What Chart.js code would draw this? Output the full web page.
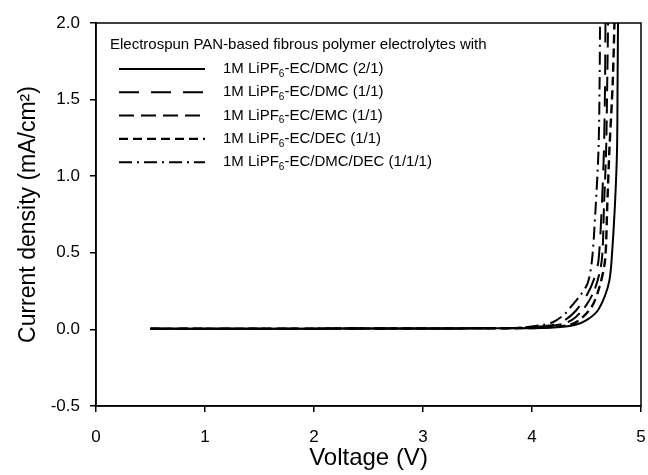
<!DOCTYPE html>
<html>
<head>
<meta charset="utf-8">
<script src="https://cdn.jsdelivr.net/npm/chart.js@4.4.0/dist/chart.umd.min.js"></script>
<style>
  html, body { margin: 0; padding: 0; background: #fff; }
  #wrap { width: 648px; height: 475px; }
</style>
</head>
<body>
<div id="wrap"><canvas id="lsv"></canvas></div>
<script>
// linear sweep voltammetry, voltage (V) vs current density (mA/cm2)
var xTicks = [0, 1, 2, 3, 4, 5];
var yTicks = [-0.5, 0.0, 0.5, 1.0, 1.5, 2.0];

var base_v = [0.5, 1.0, 1.5, 2.0, 2.5, 3.0, 3.5];
var base_i = [0.005, 0.005, 0.005, 0.005, 0.006, 0.006, 0.007];

// EC/DMC/DEC (1/1/1)
var v_dmcdec = [3.9, 4.1, 4.2, 4.3, 4.36, 4.44, 4.51, 4.55, 4.58, 4.61, 4.62, 4.625];
var i_dmcdec = [0.012, 0.03, 0.05, 0.10, 0.15, 0.22, 0.30, 0.45, 0.75, 1.17, 1.6, 2.1];
// EC/DMC (1/1)
var v_dmc11 = [3.9, 4.1, 4.2, 4.3, 4.4, 4.5, 4.57, 4.61, 4.64, 4.66, 4.67, 4.675];
var i_dmc11 = [0.01, 0.02, 0.03, 0.06, 0.12, 0.22, 0.33, 0.45, 0.8, 1.17, 1.6, 2.1];
// EC/EMC (1/1)
var v_emc = [3.9, 4.1, 4.3, 4.4, 4.5, 4.58, 4.64, 4.66, 4.68, 4.69, 4.70];
var i_emc = [0.009, 0.015, 0.04, 0.08, 0.16, 0.27, 0.45, 0.8, 1.17, 1.6, 2.1];
// EC/DEC (1/1)
var v_dec = [3.9, 4.1, 4.35, 4.45, 4.55, 4.62, 4.67, 4.69, 4.71, 4.74, 4.76];
var i_dec = [0.008, 0.012, 0.03, 0.07, 0.15, 0.28, 0.45, 0.8, 1.17, 1.6, 2.1];
// EC/DMC (2/1)
var v_dmc21 = [3.9, 4.2, 4.4, 4.5, 4.6, 4.67, 4.71, 4.73, 4.76, 4.78, 4.785, 4.79];
var i_dmc21 = [0.008, 0.012, 0.03, 0.06, 0.12, 0.22, 0.32, 0.45, 0.8, 1.17, 1.6, 2.1];

var legendNames = ['EC/DMC (2/1)', 'EC/DMC (1/1)', 'EC/EMC (1/1)', 'EC/DEC (1/1)', 'EC/DMC/DEC (1/1/1)'];
var dashes = [[], [20, 12], [15, 7], [9, 5], [13, 5, 2, 5]];

function pts(v, i) {
  var out = [];
  for (var k = 0; k < base_v.length; k++) out.push({x: base_v[k], y: base_i[k]});
  for (var k = 0; k < v.length; k++) out.push({x: v[k], y: i[k]});
  return out;
}

var curves = [
  pts(v_dmc21, i_dmc21),
  pts(v_dmc11, i_dmc11),
  pts(v_emc, i_emc),
  pts(v_dec, i_dec),
  pts(v_dmcdec, i_dmcdec)
];

var FONT = "'Liberation Sans', Arial, sans-serif";

// box around the plot area
var frame = {
  id: 'frame',
  afterDraw: function(chart) {
    var a = chart.chartArea, c = chart.ctx;
    c.save();
    c.strokeStyle = '#000';
    c.lineWidth = 1.5;
    c.strokeRect(a.left, a.top, a.right - a.left, a.bottom - a.top);
    c.restore();
  }
};

// legend box with subscripted LiPF6
var lsvLegend = {
  id: 'lsvLegend',
  afterDraw: function(chart) {
    var c = chart.ctx;
    c.save();
    c.fillStyle = '#000';
    c.textBaseline = 'middle';
    c.font = '15px ' + FONT;
    c.fillText('Electrospun PAN-based fibrous polymer electrolytes with', 110, 45);
    for (var k = 0; k < legendNames.length; k++) {
      var y = 69 + k * 23.3;
      c.beginPath();
      c.setLineDash(dashes[k]);
      c.lineWidth = k == 3 ? 2.4 : 2;
      c.strokeStyle = '#000';
      c.moveTo(119, y);
      c.lineTo(205, y);
      c.stroke();
      c.setLineDash([]);
      var x = 223;
      c.font = '15px ' + FONT;
      c.fillText('1M LiPF', x, y);
      x += c.measureText('1M LiPF').width;
      c.font = '10px ' + FONT;
      c.fillText('6', x, y + 5);
      x += c.measureText('6').width;
      c.font = '15px ' + FONT;
      c.fillText('-' + legendNames[k], x, y);
    }
    c.restore();
  }
};

var ctx = document.getElementById('lsv').getContext('2d');
var lsvChart = new Chart(ctx, {
  type: 'scatter',
  data: {
    datasets: curves.map(function(d, k) {
      return {
        label: legendNames[k],
        data: d,
        showLine: true,
        borderColor: '#000',
        borderWidth: k == 3 ? 2.4 : 2,
        borderDash: dashes[k],
        pointRadius: 0,
        tension: 0.3,
        clip: 0
      };
    })
  },
  options: {
    responsive: true,
    maintainAspectRatio: false,
    animation: false,
    layout: { padding: { top: 23, right: 7, left: 0, bottom: 0 } },
    plugins: { legend: { display: false }, tooltip: { enabled: false } },
    scales: {
      x: {
        type: 'linear',
        min: 0, max: 5,
        afterBuildTicks: function(s) { s.ticks = xTicks.map(function(v) { return {value: v}; }); },
        afterFit: function(s) { s.height = 69; s.paddingRight = 0; s.paddingLeft = 0; },
        grid: { display: true, drawOnChartArea: false, drawTicks: true, tickLength: 6, color: '#000', lineWidth: 1.5 },
        border: { display: true, color: '#000', width: 1.5 },
        ticks: { color: '#000', font: { family: FONT, size: 17 }, padding: 15, maxRotation: 0,
          callback: function(v) { return String(v); } },
        title: { display: true, text: 'Voltage (V)', color: '#000', font: { family: FONT, size: 24 }, padding: { top: 0, bottom: 2 } }
      },
      y: {
        type: 'linear',
        min: -0.5, max: 2.0,
        afterBuildTicks: function(s) { s.ticks = yTicks.map(function(v) { return {value: v}; }); },
        afterFit: function(s) { s.width = 96; },
        grid: { display: true, drawOnChartArea: false, drawTicks: true, tickLength: 6, color: '#000', lineWidth: 1.5 },
        border: { display: true, color: '#000', width: 1.5 },
        ticks: { color: '#000', font: { family: FONT, size: 17 }, padding: 10,
          callback: function(v) { return v.toFixed(1); } },
        title: { display: true, text: 'Current density (mA/cm\u00B2)', color: '#000', font: { family: FONT, size: 23 }, padding: { top: 15, bottom: 0 } }
      }
    }
  },
  plugins: [frame, lsvLegend]
});
</script>
</body>
</html>
